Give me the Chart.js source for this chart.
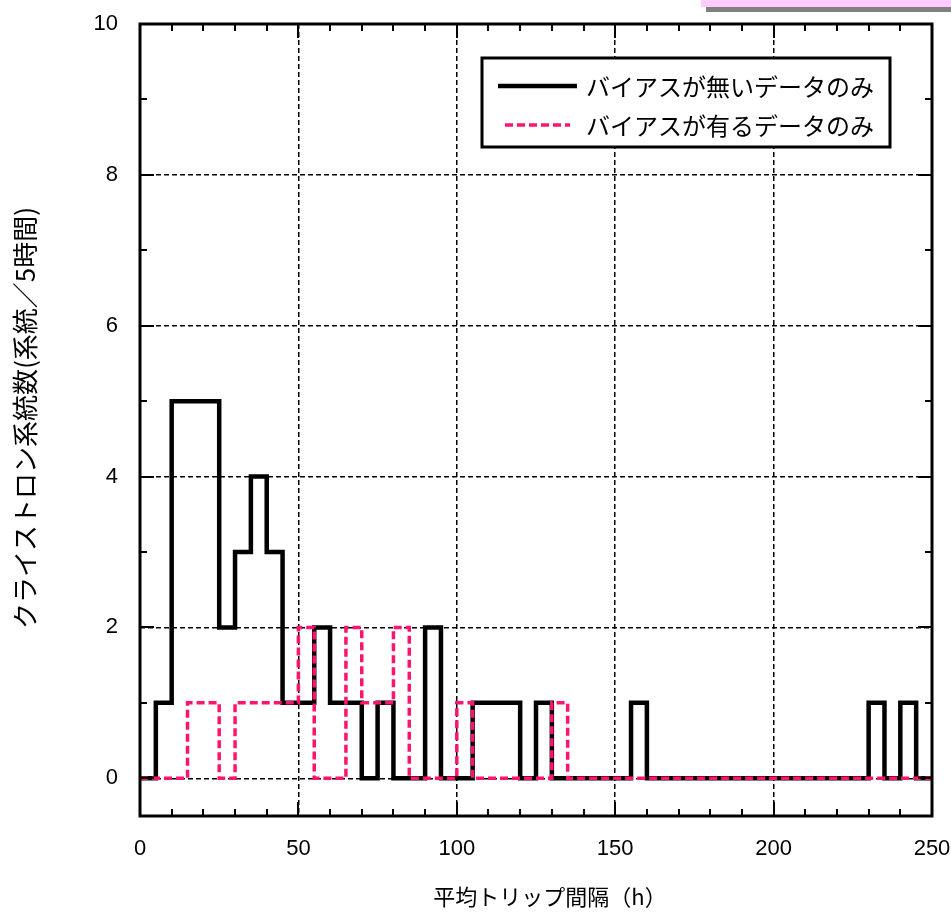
<!DOCTYPE html>
<html>
<head>
<meta charset="utf-8">
<script src="https://cdn.jsdelivr.net/npm/chart.js@4.4.1/dist/chart.umd.min.js"></script>
<style>
  body { margin: 0; background: #fff; }
  #wrap { position: relative; width: 951px; height: 923px; }
  #topbar { position: absolute; left: 706px; top: 7px; width: 245px; height: 5px; background: #808080; }
  #topbar2 { position: absolute; left: 701px; top: 0; width: 250px; height: 7px; background: #ffccff; }
</style>
</head>
<body>
<div id="wrap">
  <canvas id="myChart" width="951" height="923"></canvas>
  <div id="topbar"></div>
  <div id="topbar2"></div>
</div>
<script>
// bin start (h), 5 hour bins
const binStart = [0, 5, 10, 15, 20, 25, 30, 35, 40, 45,
                  50, 55, 60, 65, 70, 75, 80, 85, 90, 95,
                  100, 105, 110, 115, 120, 125, 130, 135, 140, 145,
                  150, 155, 160, 165, 170, 175, 180, 185, 190, 195,
                  200, 205, 210, 215, 220, 225, 230, 235, 240, 245, 250];

// counts per bin (last value repeats to close the step at 250)
const noBias   = [0, 1, 5, 5, 5, 2, 3, 4, 3, 1,
                  1, 2, 1, 1, 0, 1, 0, 0, 2, 0,
                  0, 1, 1, 1, 0, 1, 0, 0, 0, 0,
                  0, 1, 0, 0, 0, 0, 0, 0, 0, 0,
                  0, 0, 0, 0, 0, 0, 1, 0, 1, 0, 0];
const withBias = [0, 0, 0, 1, 1, 0, 1, 1, 1, 1,
                  2, 0, 0, 2, 1, 1, 2, 0, 0, 0,
                  1, 0, 0, 0, 0, 0, 1, 0, 0, 0,
                  0, 0, 0, 0, 0, 0, 0, 0, 0, 0,
                  0, 0, 0, 0, 0, 0, 0, 0, 0, 0, 0];

const seriesNames = ['バイアスが無いデータのみ', 'バイアスが有るデータのみ'];
const xTicks = [0, 50, 100, 150, 200, 250];
const yTicks = [0, 2, 4, 6, 8, 10];
const xMinor = [10, 20, 30, 40, 50, 60, 70, 80, 90, 100, 110, 120, 130, 140, 150, 160, 170, 180, 190, 200, 210, 220, 230, 240];
const yMinor = [0, 1, 2, 3, 4, 5, 6, 7, 8, 9];
const xTitle = '平均トリップ間隔（h）';
const yTitle = 'クライストロン系統数(系統／5時間)';

const PINK = '#ff1470';
const JP = "'Noto Sans CJK JP', sans-serif";
const LAT = "'Liberation Sans', Arial, sans-serif";

function toPts(vals) {
    return binStart.map((x, i) => ({ x: x, y: vals[i] }));
}

//  frame, minor ticks, x labels, titles, legend
const decor = {
    id: 'decor',
    afterDraw(chart) {
        const { ctx, chartArea: { left, right, top, bottom } } = chart;
        const xs = chart.scales.x, ys = chart.scales.y;
        ctx.save();

        // ticks inward
        ctx.strokeStyle = '#000';
        ctx.lineWidth = 2;
        ctx.setLineDash([]);
        xMinor.forEach(v => {
            const px = Math.round(xs.getPixelForValue(v));
            const len = (v % 50 === 0) ? 14 : 7;
            ctx.beginPath();
            ctx.moveTo(px, bottom); ctx.lineTo(px, bottom - len);
            ctx.moveTo(px, top); ctx.lineTo(px, top + len);
            ctx.stroke();
        });
        yMinor.forEach(v => {
            const py = Math.round(ys.getPixelForValue(v));
            const len = (v % 2 === 0) ? 14 : 7;
            ctx.beginPath();
            ctx.moveTo(left, py); ctx.lineTo(left + len, py);
            ctx.moveTo(right, py); ctx.lineTo(right - len, py);
            ctx.stroke();
        });

        // frame
        ctx.lineWidth = 3;
        ctx.strokeRect(left, top, right - left, bottom - top);

        // x tick labels
        ctx.fillStyle = '#000';
        ctx.textAlign = 'center';
        ctx.textBaseline = 'middle';
        ctx.font = '22px ' + LAT;
        xs.ticks.forEach(t => {
            ctx.fillText(String(t.value), xs.getPixelForValue(t.value), 849);
        });

        // axis titles
        ctx.font = '22px ' + JP;
        ctx.fillText(xTitle, 550, 897);
        ctx.save();
        ctx.translate(25, 418);
        ctx.rotate(-Math.PI / 2);
        ctx.font = '26px ' + JP;
        ctx.fillText(yTitle, 0, 0);
        ctx.restore();

        // legend box
        const bx = 482, by = 58, bw = 408, bh = 89;
        ctx.fillStyle = '#fff';
        ctx.fillRect(bx, by, bw, bh);
        ctx.lineWidth = 3;
        ctx.strokeStyle = '#000';
        ctx.strokeRect(bx, by, bw, bh);
        chart.data.datasets.slice().sort((a, b) => a.legendIndex - b.legendIndex).forEach((ds, i) => {
            const ly = 86 + i * 39;
            ctx.beginPath();
            ctx.strokeStyle = ds.borderColor;
            ctx.lineWidth = ds.borderWidth;
            ctx.setLineDash(ds.borderDash || []);
            ctx.moveTo(i === 0 ? 498 : 505, ly);
            ctx.lineTo(i === 0 ? 577 : 570, ly);
            ctx.stroke();
            ctx.setLineDash([]);
            ctx.fillStyle = '#000';
            ctx.textAlign = 'left';
            ctx.font = '24px ' + JP;
            ctx.fillText(ds.label, 586, ly + 1);
        });
        ctx.restore();
    }
};

const data = {
    datasets: [
        {
            label: seriesNames[1],
            legendIndex: 1,
            data: toPts(withBias),
            borderColor: PINK,
            borderWidth: 3.5,
            borderDash: [8, 4],
            stepped: 'before',
            pointRadius: 0,
            fill: false,
            borderJoinStyle: 'miter',
            borderCapStyle: 'butt',
            order: 0
        },
        {
            label: seriesNames[0],
            legendIndex: 0,
            data: toPts(noBias),
            borderColor: '#000',
            borderWidth: 4.5,
            stepped: 'before',
            pointRadius: 0,
            fill: false,
            borderJoinStyle: 'miter',
            borderCapStyle: 'butt',
            order: 1
        }
    ]
};

const config = {
    type: 'line',
    data: data,
    options: {
        responsive: false,
        animation: false,
        layout: { padding: { top: 24, right: 19, left: 0, bottom: 0 } },
        plugins: {
            legend: { display: false },
            tooltip: { enabled: false }
        },
        scales: {
            x: {
                type: 'linear',
                min: 0,
                max: 250,
                afterBuildTicks: s => { s.ticks = xTicks.map(v => ({ value: v })); },
                afterFit: s => {
                    s.height = 107;
                    s.paddingLeft = 0; s.paddingRight = 0;
                },
                grid: { color: '#000', lineWidth: 1.5, drawTicks: false },
                border: { display: false, dash: [5, 3] },
                ticks: { display: false }
            },
            y: {
                min: -0.5,
                max: 10,
                afterBuildTicks: s => { s.ticks = yTicks.map(v => ({ value: v })); },
                afterFit: s => {
                    s.width = 140;
                    s.paddingTop = 0; s.paddingBottom = 0;
                },
                grid: { color: '#000', lineWidth: 1.5, drawTicks: false },
                border: { display: false, dash: [5, 3] },
                ticks: {
                    padding: 22,
                    color: '#000',
                    font: { family: LAT, size: 22 }
                }
            }
        }
    },
    plugins: [decor]
};

new Chart(document.getElementById('myChart'), config);
</script>
</body>
</html>
